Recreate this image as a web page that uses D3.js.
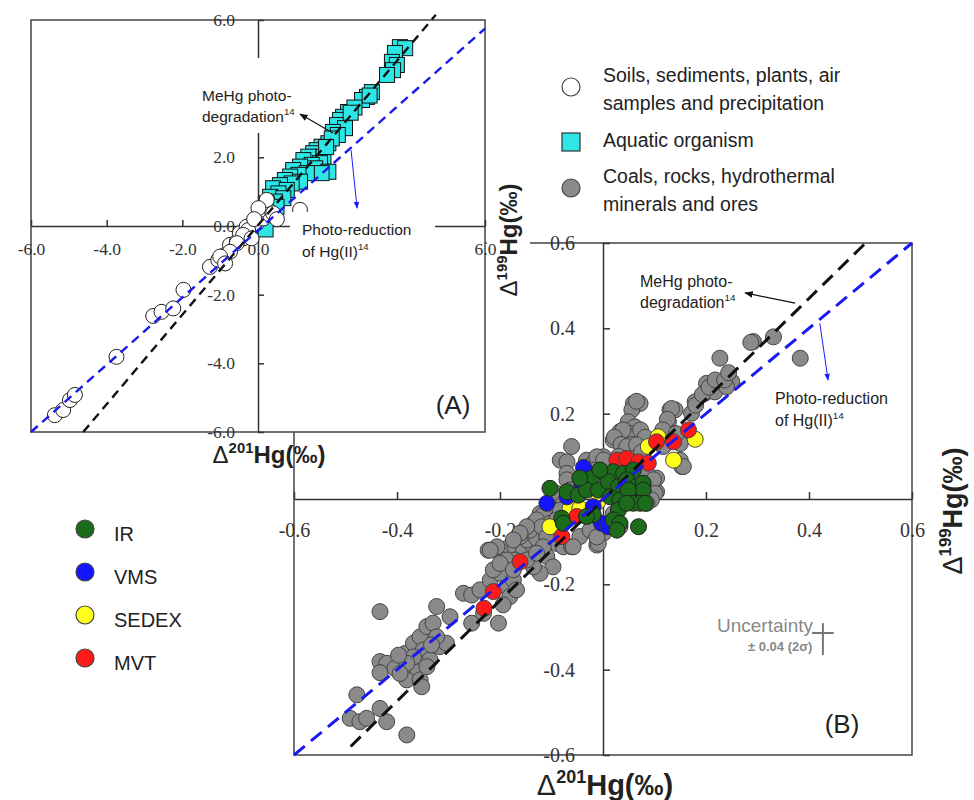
<!DOCTYPE html>
<html>
<head>
<meta charset="utf-8">
<script src="https://cdn.jsdelivr.net/npm/d3@7"></script>
<style>
  body { margin: 0; background: #fff; }
  svg { display: block; }
</style>
</head>
<body>
<div id="chart"></div>
<script>
// ---- panel A data (Δ201Hg, Δ199Hg in ‰) ----
const aSoil = [
  [-5.37,-5.51],[-5.15,-5.36],[-4.97,-5.07],[-4.84,-4.92],[-3.74,-3.81],[-2.77,-2.62],[-2.55,-2.50],
  [-2.24,-2.40],[-1.97,-1.86],[-1.27,-1.19],[-1.05,-0.99],[-0.87,-0.84],[-0.74,-0.55],[-0.56,-0.46],
  [-0.39,-0.36],[-0.48,-0.21],[-0.21,-0.17],[-0.30,-0.02],[-0.03,0.08],[0.14,0.22],[0.32,0.32],
  [0.05,0.47],[0.23,0.56],[0.23,0.76],[0.01,0.52],[0.40,0.37],[1.11,0.47],[-0.26,-0.12],[-0.39,-0.26],
  [-0.17,-0.36],[-0.56,-0.50],[-0.74,-0.75],[-1.00,-0.89],[-0.87,-1.09],[-0.10,0.20],[0.50,0.20]
];
const aAquatic = [
  [3.75,5.21],[3.89,5.18],[3.62,5.04],[3.54,4.78],[3.67,4.69],[3.57,4.54],[3.41,4.40],[3.01,3.90],
  [2.88,3.76],[2.75,3.67],[2.38,3.32],[2.25,3.18],[2.17,3.09],[2.09,2.94],[2.30,2.85],[1.98,2.74],
  [2.11,2.65],[1.86,2.41],[1.68,2.31],[1.55,2.21],[1.46,2.12],[1.73,2.02],[1.33,2.02],[1.20,1.92],
  [1.64,1.83],[1.42,1.78],[1.11,1.73],[0.93,1.63],[1.51,1.68],[1.86,1.58],[1.68,1.54],[1.29,1.54],
  [1.07,1.49],[0.85,1.44],[0.71,1.34],[1.11,1.29],[0.89,1.24],[0.58,1.19],[0.40,1.10],[0.76,1.05],
  [0.54,0.95],[0.32,0.85],[0.67,0.81],[0.45,0.71],[0.23,0.66],[0.14,0.47],[0.49,0.56],[0.20,-0.10],
  [2.95,3.80],[2.55,3.45],[2.45,3.30],[1.95,2.55],[1.80,2.30]
];
const aMeHgLine = [[-4.62,-6.0],[4.70,6.15]];
const aReductionLine = [[-6.0,-6.0],[6.0,5.75]];
const aTicks = [-6,-4,-2,0,2,4,6];
const aHiddenX = [2, 4];   // labels covered by the annotation box
const aHiddenY = [4];

// ---- panel B data ----
const bCoal = [
  [-0.433,-0.264],[-0.478,-0.459],[-0.491,-0.514],[-0.472,-0.522],[-0.459,-0.514],[-0.433,-0.491],
  [-0.420,-0.522],[-0.381,-0.553],[-0.433,-0.381],[-0.420,-0.385],[-0.404,-0.397],[-0.433,-0.407],
  [-0.384,-0.362],[-0.368,-0.338],[-0.355,-0.323],[-0.342,-0.299],[-0.330,-0.291],[-0.323,-0.252],
  [-0.349,-0.354],[-0.336,-0.377],[-0.372,-0.393],[-0.359,-0.405],[-0.381,-0.424],[-0.355,-0.424],
  [-0.342,-0.393],[-0.317,-0.346],[-0.304,-0.338],[-0.297,-0.276],[-0.323,-0.323],[-0.333,-0.342],
  [-0.368,-0.370],[-0.381,-0.385],[-0.394,-0.409],[-0.352,-0.440],[-0.397,-0.366],
  [-0.255,-0.291],[-0.232,-0.268],[-0.203,-0.291],[-0.271,-0.221],[-0.255,-0.225],[-0.239,-0.213],
  [-0.219,-0.190],[-0.200,-0.174],[-0.213,-0.166],[-0.187,-0.206],[-0.174,-0.190],[-0.181,-0.229],
  [-0.168,-0.213],[-0.194,-0.248],[-0.223,-0.120],[-0.206,-0.120],[-0.187,-0.116],[-0.171,-0.112],
  [-0.155,-0.124],[-0.135,-0.112],[-0.122,-0.127],[-0.109,-0.135],[-0.097,-0.159],[-0.122,-0.174],
  [-0.135,-0.159],[-0.148,-0.143],[-0.171,-0.143],[-0.187,-0.143],[-0.200,-0.151],[-0.174,-0.166],
  [-0.148,-0.096],[-0.129,-0.092],[-0.109,-0.088],[-0.090,-0.104],[-0.077,-0.112],[-0.061,-0.112],
  [-0.012,-0.108],[-0.122,-0.034],[-0.135,-0.057],[-0.116,-0.065],[-0.097,-0.049],[-0.090,0.013],
  [0.331,0.380],[0.292,0.369],[0.383,0.330],[0.227,0.330],[0.201,0.271],[0.198,0.248],[0.217,0.251],
  [0.250,0.275],[0.240,0.263],[0.179,0.228],[0.172,0.201],[0.130,0.209],[0.140,0.209],[0.127,0.181],
  [0.130,0.154],[0.059,0.224],[0.072,0.224],[0.056,0.209],[0.049,0.181],[0.062,0.169],[0.052,0.154],
  [0.033,0.158],[0.020,0.138],[0.040,0.138],[0.059,0.146],[-0.061,0.123],[0.001,0.099],[-0.032,0.091],
  [-0.019,0.084],[-0.083,0.091],[0.153,0.076],[0.150,0.130],[-0.070,0.087],[-0.070,0.060],
  [-0.070,0.045],[-0.012,0.099],[0.001,0.091],[-0.016,0.068],[-0.064,0.021],[-0.077,-0.010],
  [-0.097,-0.026],[-0.116,-0.037],[-0.129,-0.049],[-0.142,-0.073],[-0.161,-0.088],[-0.103,-0.057],
  [-0.119,-0.065],[0.091,0.005],[0.104,0.017],[0.104,0.049],[0.094,0.029],[-0.012,-0.073],
  [0.001,-0.080],[0.085,0.060],[0.098,0.045],[0.101,0.013],[0.094,-0.002],[0.085,-0.010],
  [0.127,0.138],[0.117,0.123],[0.150,0.091],[0.156,0.076],[0.124,0.154],[0.137,0.154],
  [-0.148,-0.065],[-0.161,-0.080],[-0.174,-0.096],[-0.206,-0.112],[-0.219,-0.120],[-0.083,-0.026],
  [-0.090,-0.049],[-0.097,-0.080],[-0.109,-0.088],[-0.116,-0.112],[-0.129,-0.127],[-0.045,-0.088],
  [-0.025,-0.073],[-0.009,-0.104],[-0.058,-0.112],[0.020,-0.049],[0.033,-0.065],[0.020,-0.034],
  [0.065,0.229],[0.039,0.162],[0.022,0.145],[0.035,0.128],[0.056,0.128],[0.073,0.162],[0.082,0.145],
  [0.133,0.212],[0.125,0.187],[0.116,0.162],[0.142,0.153],[0.180,0.220],[0.193,0.245],[0.206,0.262],
  [0.218,0.279],[0.236,0.279],[0.244,0.296],[0.287,0.367],[-0.012,-0.089],[0.046,0.123],[0.065,0.127],
  [0.030,0.100],[0.060,0.095],[0.075,0.110],[-0.040,0.040],[-0.050,0.010],[0.010,0.030],[0.030,0.070]
];
const bIR = [
  [-0.103,0.025],[-0.070,0.017],[-0.048,0.009],[-0.022,0.049],[-0.032,0.021],[-0.009,0.021],
  [0.020,0.064],[0.040,0.060],[0.059,0.068],[0.010,0.041],[0.030,0.029],[0.046,0.045],[0.065,0.029],
  [0.078,0.037],[0.078,0.021],[0.014,0.005],[0.033,-0.002],[0.049,0.021],[0.059,-0.010],[0.072,-0.010],
  [0.082,-0.010],[-0.019,-0.037],[-0.032,-0.041],[-0.080,-0.045],[-0.077,-0.057],[0.030,-0.026],
  [0.020,-0.049],[0.033,-0.057],[0.027,-0.073],[0.069,-0.065],[0.046,-0.010],[-0.006,0.068],[-0.045,0.049]
];
const bVMS = [
  [-0.032,0.064],[-0.109,-0.010],[-0.041,0.033],[-0.019,-0.018],[-0.003,-0.057],[0.010,-0.065],
  [0.065,0.013],[-0.070,0.005],[-0.038,0.074]
];
const bSEDEX = [
  [0.088,0.123],[0.107,0.146],[0.137,0.091],[0.179,0.140],[-0.103,-0.065],[-0.064,-0.022],
  [-0.045,-0.022],[-0.010,-0.006]
];
const bMVT = [
  [-0.161,-0.147],[-0.213,-0.217],[-0.231,-0.256],[-0.080,-0.088],[-0.051,-0.041],[0.027,0.091],
  [0.046,0.095],[0.069,0.087],[0.088,0.084],[0.104,0.134],[0.137,0.134],[0.166,0.162],[0.040,0.005]
];
const bMeHgLine = [[-0.49,-0.58],[0.51,0.60]];
const bReductionLine = [[-0.6,-0.6],[0.6,0.6]];
const bTicks = [-0.6,-0.4,-0.2,0.2,0.4,0.6];

const sourceLegend = [
  {kind: "circle", fill: "#fff", lines: ["Soils, sediments, plants, air", "samples and precipitation"]},
  {kind: "square", fill: "#2ee6e6", lines: ["Aquatic organism"]},
  {kind: "circle", fill: "#8a8a8a", lines: ["Coals, rocks, hydrothermal", "minerals and ores"]}
];
const depositLegend = [
  {name: "IR", fill: "#1b6b1b"},
  {name: "VMS", fill: "#1414ff"},
  {name: "SEDEX", fill: "#ffff1a"},
  {name: "MVT", fill: "#ff1a1a"}
];

const SANS = "'Liberation Sans', Arial, sans-serif";
const SERIF = "'Liberation Serif', 'Times New Roman', serif";

const svg = d3.select("#chart").append("svg")
  .attr("width", 974)
  .attr("height", 800);

const defs = svg.append("defs");
[["headK", "#111"], ["headB", "#1a1aff"]].forEach(([id, c]) => {
  defs.append("marker").attr("id", id)
    .attr("viewBox", "0 0 10 10").attr("refX", 9).attr("refY", 5)
    .attr("markerWidth", 7).attr("markerHeight", 7)
    .attr("orient", "auto")
    .append("path").attr("d", "M0,1L10,5L0,9z").attr("fill", c);
});

// text with superscripts: parts = [{t, sup, bold}]
function richText(parent, x, y, size, parts) {
  const t = parent.append("text").attr("x", x).attr("y", y)
    .attr("font-size", size).style("font-family", SANS).attr("fill", "#222");
  let shift = 0;
  parts.forEach(p => {
    const s = t.append("tspan").text(p.t);
    const target = p.sup ? -size * 0.42 : 0;
    s.attr("dy", target - shift);
    shift = target;
    if (p.sup) s.attr("font-size", size * 0.62);
    if (p.bold) s.attr("font-weight", "bold");
  });
  return t;
}

function styleAxis(g, size) {
  g.style("color", "#333");
  g.selectAll("text").style("font-family", SERIF).style("font-size", size + "px");
  g.selectAll("path, line").attr("stroke-width", 1.5);
}

function dashed(g, pts, x, y, color, w, dash) {
  g.append("line")
    .attr("x1", x(pts[0][0])).attr("y1", y(pts[0][1]))
    .attr("x2", x(pts[1][0])).attr("y2", y(pts[1][1]))
    .attr("stroke", color).attr("stroke-width", w)
    .attr("stroke-dasharray", dash);
}

function dots(g, data, x, y, r, fill, stroke) {
  g.selectAll(null).data(data).join("circle")
    .attr("cx", d => x(d[0])).attr("cy", d => y(d[1]))
    .attr("r", r).attr("fill", fill)
    .attr("stroke", stroke).attr("stroke-width", 1);
}

function arrow(g, from, to, x, y, color, w, marker) {
  g.append("line")
    .attr("x1", x(from[0])).attr("y1", y(from[1]))
    .attr("x2", x(to[0])).attr("y2", y(to[1]))
    .attr("stroke", color).attr("stroke-width", w)
    .attr("marker-end", `url(#${marker})`);
}

// ================= panel B =================
const xB = d3.scaleLinear().domain([-0.6, 0.6]).range([294, 912]);
const yB = d3.scaleLinear().domain([-0.6, 0.6]).range([755, 243]);
const gB = svg.append("g");

gB.append("rect")
  .attr("x", xB(-0.6)).attr("y", yB(0.6))
  .attr("width", xB(0.6) - xB(-0.6)).attr("height", yB(-0.6) - yB(0.6))
  .attr("fill", "#fff").attr("stroke", "#444").attr("stroke-width", 1.5);

const bx = gB.append("g").attr("transform", `translate(0,${yB(0)})`)
  .call(d3.axisBottom(xB).tickValues(bTicks).tickSize(-7).tickSizeOuter(0)
    .tickPadding(24).tickFormat(d => d.toFixed(1)));
styleAxis(bx, 20);
const by = gB.append("g").attr("transform", `translate(${xB(0)},0)`)
  .call(d3.axisLeft(yB).tickValues(bTicks).tickSize(-7).tickSizeOuter(0)
    .tickPadding(28).tickFormat(d => d.toFixed(1)));
styleAxis(by, 20);

dots(gB, bCoal, xB, yB, 8, "#8a8a8a", "#444");
dots(gB, bSEDEX, xB, yB, 8, "#ffff1a", "#444");
dots(gB, bMVT, xB, yB, 8, "#ff1a1a", "#444");
dots(gB, bVMS, xB, yB, 8, "#1414ff", "#333");
dots(gB, bIR, xB, yB, 8, "#1b6b1b", "#222");

dashed(gB, bMeHgLine, xB, yB, "#111", 3, "14 8");
dashed(gB, bReductionLine, xB, yB, "#1a1aee", 3, "14 8");

richText(gB, 640, 287, 16, [{t: "MeHg photo-"}]);
richText(gB, 640, 308, 16, [{t: "degradation"}, {t: "14", sup: true}]);
arrow(gB, [0.373, 0.459], [0.276, 0.483], xB, yB, "#111", 1.2, "headK");
richText(gB, 775, 404, 16, [{t: "Photo-reduction"}]);
richText(gB, 775, 426, 16, [{t: "of Hg(II)"}, {t: "14", sup: true}]);
arrow(gB, [0.421, 0.412], [0.437, 0.279], xB, yB, "#1a1aff", 1, "headB");

// uncertainty cross
const uc = {x: 0.427, y: -0.314, dx: 0.021, up: 0.023, down: 0.052};
gB.append("text").attr("x", 717).attr("y", 632).style("font-family", SANS)
  .attr("font-size", 19).attr("fill", "#888").text("Uncertainty");
gB.append("text").attr("x", 748).attr("y", 651).style("font-family", SANS)
  .attr("font-size", 13).attr("font-weight", "bold").attr("fill", "#888").text("± 0.04 (2σ)");
gB.append("line").attr("x1", xB(uc.x)).attr("x2", xB(uc.x))
  .attr("y1", yB(uc.y + uc.up)).attr("y2", yB(uc.y - uc.down))
  .attr("stroke", "#777").attr("stroke-width", 2);
gB.append("line").attr("x1", xB(uc.x - uc.dx)).attr("x2", xB(uc.x + uc.dx))
  .attr("y1", yB(uc.y)).attr("y2", yB(uc.y))
  .attr("stroke", "#777").attr("stroke-width", 2);

gB.append("text").attr("x", 842).attr("y", 733).attr("text-anchor", "middle")
  .style("font-family", SANS).attr("font-size", 26).attr("fill", "#222").text("(B)");

richText(gB, 605, 795, 29, [{t: "Δ"}, {t: "201", sup: true, bold: true}, {t: "Hg(‰)", bold: true}])
  .attr("text-anchor", "middle");
richText(gB, 0, 0, 27, [{t: "Δ"}, {t: "199", sup: true, bold: true}, {t: "Hg(‰)", bold: true}])
  .attr("text-anchor", "middle").attr("transform", "translate(962,511) rotate(-90)");

// ================= panel A =================
const xA = d3.scaleLinear().domain([-6, 6]).range([31, 485]);
const yA = d3.scaleLinear().domain([-6, 6]).range([432, 20]);
const gA = svg.append("g");

gA.append("rect")
  .attr("x", xA(-6)).attr("y", yA(6))
  .attr("width", xA(6) - xA(-6)).attr("height", yA(-6) - yA(6))
  .attr("fill", "#fff").attr("stroke", "#444").attr("stroke-width", 1.5);
// white backing of the A y-axis title, hides the corner of panel B's frame
gA.append("rect").attr("x", xA(6) + 2).attr("y", 165).attr("width", 43).attr("height", 150).attr("fill", "#fff");

const ax = gA.append("g").attr("transform", `translate(0,${yA(0)})`)
  .call(d3.axisBottom(xA).tickValues(aTicks).tickSize(-6).tickSizeOuter(0)
    .tickPadding(17).tickFormat(d => aHiddenX.includes(d) ? "" : d.toFixed(1)));
styleAxis(ax, 17.5);
const ay = gA.append("g").attr("transform", `translate(${xA(0)},0)`)
  .call(d3.axisLeft(yA).tickValues(aTicks).tickSize(-6).tickSizeOuter(0)
    .tickPadding(23).tickFormat(d => aHiddenY.includes(d) ? "" : d.toFixed(1)));
styleAxis(ay, 17.5);

gA.selectAll(null).data(aAquatic).join("rect")
  .attr("x", d => xA(d[0]) - 7.5).attr("y", d => yA(d[1]) - 7.5)
  .attr("width", 15).attr("height", 15)
  .attr("fill", "#2ee6e6").attr("stroke", "#111").attr("stroke-width", 1);
dots(gA, aSoil, xA, yA, 7.5, "#fff", "#222");

dashed(gA, aMeHgLine, xA, yA, "#111", 2.4, "9 6");
dashed(gA, aReductionLine, xA, yA, "#1a1aee", 2.4, "9 6");

// annotation boxes (white, they hide the axis behind)
gA.append("rect").attr("x", 196).attr("y", 58).attr("width", 104).attr("height", 75).attr("fill", "#fff");
richText(gA, 202, 101, 15.5, [{t: "MeHg photo-"}]);
richText(gA, 202, 122, 15.5, [{t: "degradation"}, {t: "14", sup: true}]);
arrow(gA, [1.98, 2.71], [1.11, 3.26], xA, yA, "#111", 1.2, "headK");

gA.append("rect").attr("x", 290).attr("y", 212).attr("width", 145).attr("height", 53).attr("fill", "#fff");
richText(gA, 302, 235, 15.5, [{t: "Photo-reduction"}]);
richText(gA, 302, 257, 15.5, [{t: "of Hg(II)"}, {t: "14", sup: true}]);
arrow(gA, [2.46, 2.21], [2.62, 0.52], xA, yA, "#1a1aff", 1, "headB");

gA.append("text").attr("x", 453).attr("y", 414).attr("text-anchor", "middle")
  .style("font-family", SANS).attr("font-size", 26).attr("fill", "#222").text("(A)");

richText(gA, 269, 463, 24, [{t: "Δ"}, {t: "201", sup: true, bold: true}, {t: "Hg(‰)", bold: true}])
  .attr("text-anchor", "middle");
richText(gA, 0, 0, 24, [{t: "Δ"}, {t: "199", sup: true, bold: true}, {t: "Hg(‰)", bold: true}])
  .attr("text-anchor", "middle").attr("transform", "translate(517,240) rotate(-90)");

// ================= legends =================
const gL = svg.append("g");
const legY = [87, 142, 188];
sourceLegend.forEach((d, i) => {
  const cy = legY[i];
  if (d.kind === "square") {
    gL.append("rect").attr("x", 562).attr("y", cy - 9).attr("width", 18).attr("height", 18)
      .attr("fill", d.fill).attr("stroke", "#333").attr("stroke-width", 1.2);
  } else {
    gL.append("circle").attr("cx", 571).attr("cy", cy).attr("r", 9)
      .attr("fill", d.fill).attr("stroke", "#444").attr("stroke-width", 1.2);
  }
  d.lines.forEach((ln, j) => {
    gL.append("text").attr("x", 603).attr("y", cy - 5 + j * 28 + (d.lines.length === 1 ? 10 : 0))
      .style("font-family", SANS).attr("font-size", 19.5).attr("fill", "#222").text(ln);
  });
});

const depY = d3.scalePoint().domain(depositLegend.map(d => d.name)).range([529, 658]);
depositLegend.forEach(d => {
  gL.append("circle").attr("cx", 85).attr("cy", depY(d.name)).attr("r", 9)
    .attr("fill", d.fill).attr("stroke", "#444").attr("stroke-width", 1.2);
  gL.append("text").attr("x", 114).attr("y", depY(d.name) + 12)
    .style("font-family", SANS).attr("font-size", 20).attr("fill", "#222").text(d.name);
});
</script>
</body>
</html>
